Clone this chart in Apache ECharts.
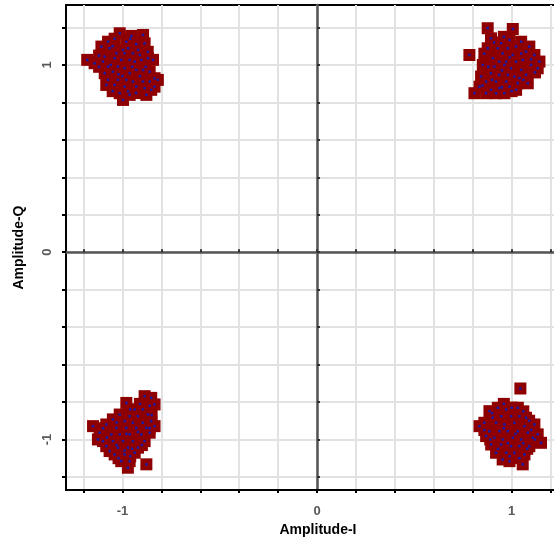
<!DOCTYPE html>
<html>
<head>
<meta charset="utf-8">
<script src="https://cdn.jsdelivr.net/npm/echarts@6/dist/echarts.min.js"></script>
<style>
html,body{margin:0;padding:0;background:#fff;}
#chart{width:554px;height:544px;}
</style>
</head>
<body>
<div id="chart"></div>
<script>
// Constellation points [I, Q]
const clusterTopLeft = [
  [-1.181,1.027],[-1.014,1.169],[-0.954,1.155],[-1.074,1.124],[-0.980,1.124],[-0.929,1.111],
  [-0.886,1.115],[-0.894,1.160],[-1.108,1.098],[-1.066,1.089],[-0.997,1.080],[-0.971,1.089],
  [-1.031,1.062],[-0.989,1.062],[-0.946,1.062],[-1.091,1.044],[-0.911,1.053],[-1.143,1.009],
  [-1.100,1.018],[-1.040,1.036],[-1.006,1.027],[-0.963,1.027],[-0.937,1.018],[-0.903,1.027],
  [-0.869,1.036],[-0.843,1.027],[-1.074,0.991],[-1.023,0.991],[-0.989,0.982],[-0.929,0.973],
  [-0.894,0.973],[-1.091,0.956],[-1.049,0.964],[-0.963,0.956],[-0.860,0.964],[-0.835,0.929],
  [-0.818,0.920],[-1.074,0.920],[-1.023,0.920],[-0.980,0.920],[-0.946,0.911],[-0.894,0.911],
  [-0.860,0.911],[-1.083,0.893],[-1.040,0.893],[-0.989,0.884],[-0.929,0.884],[-0.886,0.876],
  [-0.835,0.884],[-0.971,0.858],[-0.852,0.867],[-0.877,0.840],[-1.014,0.849],[-0.997,0.813],
  [-0.963,0.840],[-1.050,1.100],[-1.120,1.050],[-1.060,1.000],[-1.020,0.950],[-0.950,0.990],
  [-0.910,0.940],[-0.920,1.080],[-0.960,1.140],[-1.040,1.140],[-1.120,0.990],[-1.050,0.860],
  [-0.930,0.850],[-0.870,1.070],[-1.000,0.940],[-0.880,0.990]
];
const clusterTopRight = [
  [0.877,1.196],[1.006,1.192],[0.894,1.142],[0.989,1.133],[1.049,1.124],[0.946,1.116],
  [0.877,1.089],[0.929,1.089],[0.980,1.089],[1.023,1.098],[1.091,1.098],[1.074,1.071],
  [0.954,1.062],[1.006,1.053],[0.783,1.053],[1.117,1.053],[0.903,1.036],[0.937,1.018],
  [0.972,1.018],[1.023,1.018],[1.057,1.027],[1.143,1.018],[0.852,1.000],[0.912,0.991],
  [0.963,1.000],[0.997,0.982],[1.049,0.973],[1.100,1.000],[1.134,0.982],[0.894,0.956],
  [0.937,0.947],[0.980,0.947],[1.014,0.938],[1.074,0.947],[0.843,0.938],[0.869,0.911],
  [0.920,0.911],[0.972,0.911],[1.031,0.902],[1.083,0.902],[0.835,0.884],[0.894,0.867],
  [0.937,0.876],[0.989,0.884],[0.809,0.849],[0.869,0.849],[0.920,0.849],[1.023,0.867],
  [0.963,0.849],[0.860,1.060],[0.910,1.120],[0.960,1.150],[1.050,1.060],[1.100,1.030],
  [1.120,0.960],[1.040,0.930],[0.990,1.040],[0.880,0.990],[0.950,0.970],[0.850,0.890],
  [0.950,0.880],[1.000,0.860],[1.060,0.920],[0.900,0.920]
];
const clusterBottomLeft = [
  [-0.886,-0.769],[-0.852,-0.778],[-0.980,-0.805],[-0.835,-0.813],[-0.937,-0.840],[-0.895,-0.840],
  [-0.869,-0.867],[-1.014,-0.867],[-0.963,-0.876],[-0.920,-0.876],[-1.049,-0.893],[-0.989,-0.902],
  [-0.946,-0.911],[-0.895,-0.911],[-0.852,-0.902],[-1.151,-0.929],[-1.083,-0.920],[-1.031,-0.938],
  [-0.980,-0.938],[-0.929,-0.938],[-0.877,-0.938],[-0.835,-0.929],[-1.117,-0.964],[-1.057,-0.973],
  [-1.014,-0.973],[-0.963,-0.973],[-0.903,-0.973],[-0.860,-0.964],[-1.126,-1.000],[-1.100,-1.009],
  [-1.049,-1.009],[-0.997,-1.009],[-0.946,-1.009],[-0.886,-1.009],[-1.083,-1.036],[-1.023,-1.044],
  [-0.972,-1.044],[-0.920,-1.044],[-1.066,-1.062],[-1.040,-1.080],[-0.989,-1.080],[-0.937,-1.071],
  [-1.006,-1.116],[-0.963,-1.116],[-0.972,-1.151],[-0.877,-1.133],[-1.100,-0.940],[-1.030,-0.910],
  [-0.960,-0.840],[-0.910,-0.810],[-0.860,-0.820],[-0.850,-0.870],[-1.080,-0.990],[-1.030,-1.030],
  [-0.990,-1.060],[-0.950,-1.050],[-0.900,-1.030],[-0.920,-0.960],[-0.980,-0.970],[-1.020,-1.100],
  [-0.960,-1.090],[-0.860,-0.940]
];
const clusterBottomRight = [
  [1.045,-0.728],[0.929,-0.831],[0.972,-0.840],[1.032,-0.831],[0.886,-0.849],[0.903,-0.884],
  [0.946,-0.876],[0.997,-0.876],[1.040,-0.876],[1.074,-0.884],[0.860,-0.911],[0.920,-0.911],
  [0.963,-0.920],[1.014,-0.911],[1.066,-0.929],[0.835,-0.929],[1.117,-0.920],[0.886,-0.956],
  [0.937,-0.956],[0.980,-0.956],[1.032,-0.956],[1.083,-0.964],[1.134,-0.973],[0.869,-0.982],
  [0.912,-0.991],[0.954,-1.000],[1.006,-0.991],[1.049,-1.000],[1.109,-0.991],[1.151,-1.018],
  [0.895,-1.027],[0.946,-1.027],[0.997,-1.036],[1.040,-1.036],[1.091,-1.036],[0.920,-1.071],
  [0.972,-1.071],[1.014,-1.071],[1.066,-1.080],[0.954,-1.107],[0.989,-1.116],[1.057,-1.133],
  [0.900,-0.860],[0.960,-0.810],[1.000,-0.830],[1.060,-0.850],[1.090,-0.900],[1.100,-0.950],
  [0.860,-0.950],[0.890,-1.000],[0.930,-1.050],[0.990,-1.090],[1.040,-1.100],[1.080,-1.050],
  [1.120,-1.000],[1.020,-0.970],[0.960,-0.940],[0.980,-1.020],[1.060,-1.020]
];
const tickValues = [-1.2,-1.0,-0.8,-0.6,-0.4,-0.2,0,0.2,0.4,0.6,0.8,1.0,1.2];
const labelValues = [-1,0,1];
const xName = 'Amplitude-I';
const yName = 'Amplitude-Q';

const allPoints = clusterTopLeft.concat(clusterTopRight, clusterBottomLeft, clusterBottomRight);

const chart = echarts.init(document.getElementById('chart'), null, {renderer: 'canvas'});
const labelStyle = {color: '#595959', fontSize: 13, fontWeight: 'bold', fontFamily: 'Liberation Sans, Arial, sans-serif'};
chart.setOption({
  animation: false,
  backgroundColor: '#fff',
  grid: {left: 66, top: 5, width: 504, height: 485, outerBoundsMode: 'none', containLabel: false,
         show: true, borderColor: '#000', borderWidth: 2, backgroundColor: 'transparent'},
  xAxis: [
    {
      type: 'value', min: -1.29, max: 1.3, position: 'bottom',
      name: xName, nameLocation: 'middle', nameGap: 32,
      nameTextStyle: {color: '#000', fontSize: 14, fontWeight: 'bold', fontFamily: 'Liberation Sans, Arial, sans-serif'},
      axisLine: {onZero: false, lineStyle: {color: '#000', width: 2}},
      axisTick: {show: true, customValues: tickValues, length: 3, lineStyle: {color: '#000', width: 2}},
      axisLabel: Object.assign({customValues: labelValues, margin: 15, formatter: v => String(Math.round(v))}, labelStyle),
      splitLine: {show: true, lineStyle: {color: '#e2e2e2', width: 2}}
    },
    {
      type: 'value', min: -1.29, max: 1.3, position: 'top',
      axisLine: {onZero: true, onZeroAxisIndex: 0, lineStyle: {color: '#555', width: 2.5}},
      axisTick: {show: true, customValues: tickValues, length: 3, lineStyle: {color: '#333', width: 2}},
      axisLabel: {show: false},
      splitLine: {show: false}
    }
  ],
  yAxis: [
    {
      type: 'value', min: -1.27, max: 1.32, position: 'left',
      name: yName, nameLocation: 'middle', nameGap: 40,
      nameTextStyle: {color: '#000', fontSize: 14, fontWeight: 'bold', fontFamily: 'Liberation Sans, Arial, sans-serif'},
      axisLine: {onZero: false, lineStyle: {color: '#000', width: 2}},
      axisTick: {show: true, customValues: tickValues, length: 4, lineStyle: {color: '#000', width: 2}},
      axisLabel: Object.assign({customValues: labelValues, margin: 12, rotate: 90, formatter: v => String(Math.round(v))}, labelStyle),
      splitLine: {show: true, lineStyle: {color: '#e2e2e2', width: 2}}
    },
    {
      type: 'value', min: -1.27, max: 1.32, position: 'right',
      axisLine: {onZero: true, onZeroAxisIndex: 0, lineStyle: {color: '#555', width: 2.5}},
      axisTick: {show: true, customValues: tickValues, length: 3, lineStyle: {color: '#333', width: 2}},
      axisLabel: {show: false},
      splitLine: {show: false}
    }
  ],
  series: [
    {
      type: 'scatter', xAxisIndex: 0, yAxisIndex: 0,
      symbol: 'rect', symbolSize: 12,
      itemStyle: {color: '#8e0000', opacity: 1, borderWidth: 0},
      data: allPoints, z: 3
    },
    {
      type: 'scatter', xAxisIndex: 0, yAxisIndex: 0,
      symbol: 'rect', symbolSize: 2.5,
      itemStyle: {color: '#1c1ca6', opacity: 1, borderWidth: 0},
      data: allPoints, z: 4
    }
  ]
});
</script>
</body>
</html>
